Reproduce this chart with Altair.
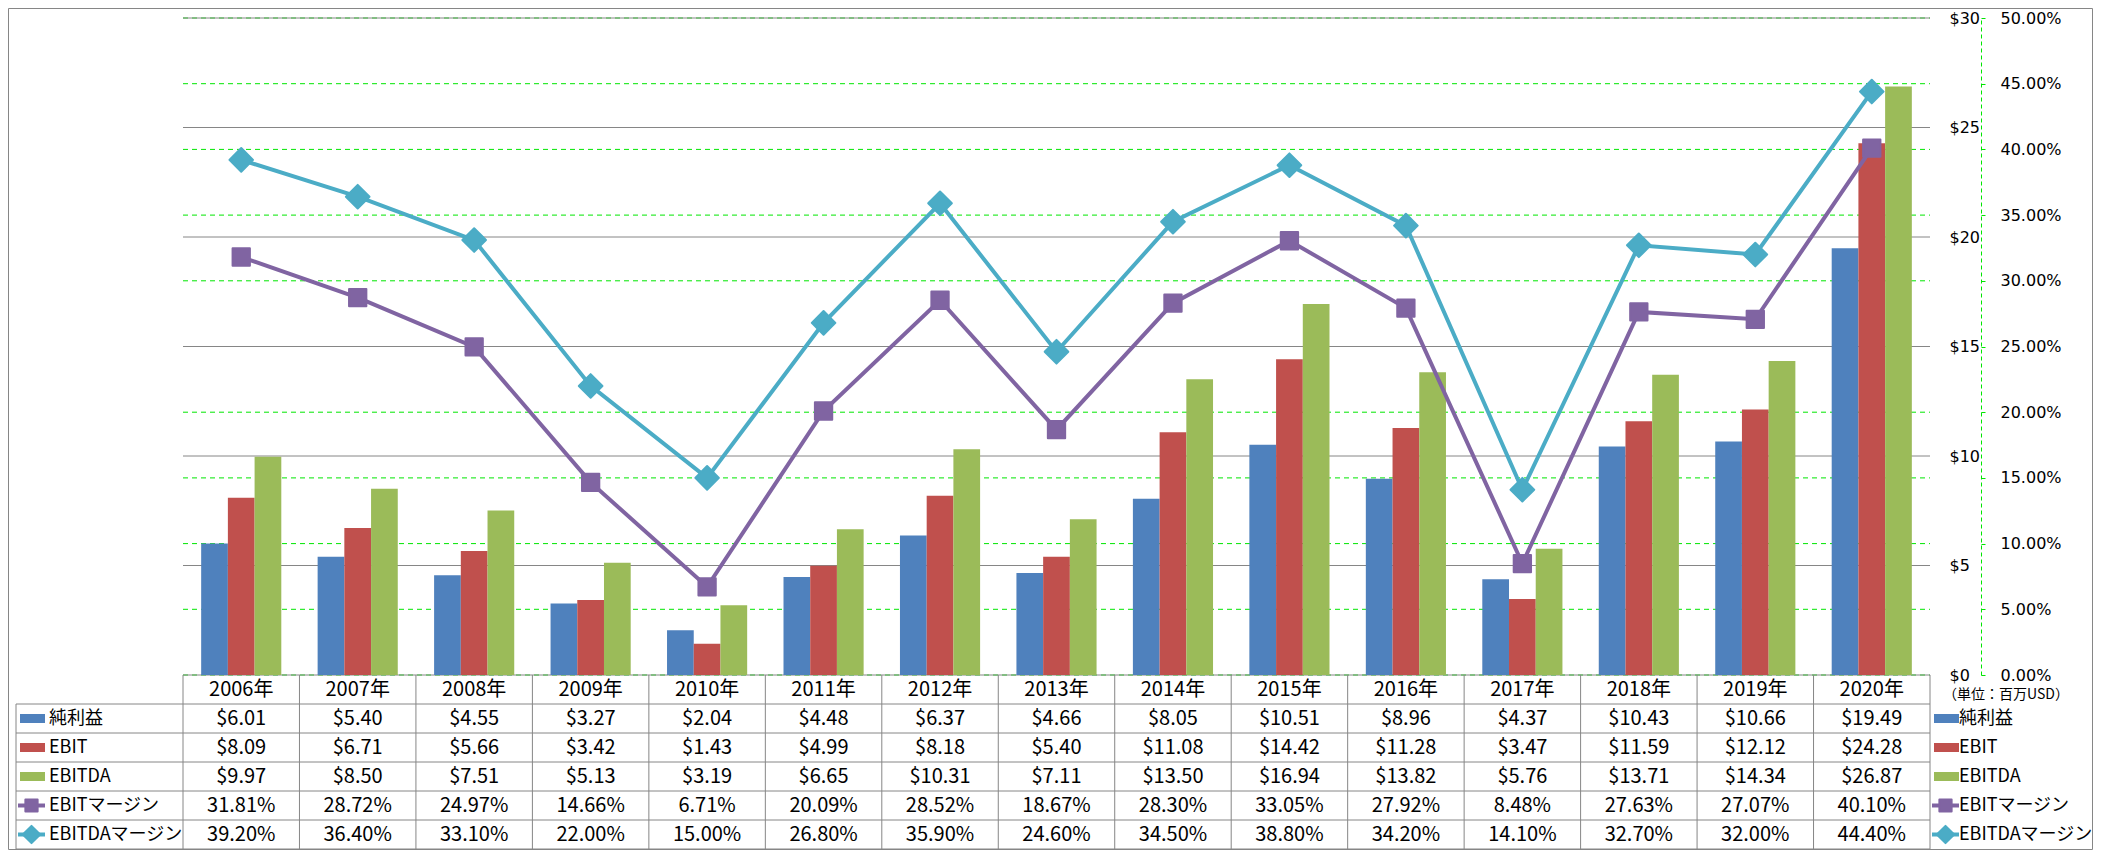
import altair as alt
import pandas as pd

years = ["2006年", "2007年", "2008年", "2009年", "2010年", "2011年", "2012年", "2013年",
         "2014年", "2015年", "2016年", "2017年", "2018年", "2019年", "2020年"]
net_income = [6.01, 5.40, 4.55, 3.27, 2.04, 4.48, 6.37, 4.66, 8.05, 10.51, 8.96, 4.37, 10.43, 10.66, 19.49]
ebit = [8.09, 6.71, 5.66, 3.42, 1.43, 4.99, 8.18, 5.40, 11.08, 14.42, 11.28, 3.47, 11.59, 12.12, 24.28]
ebitda = [9.97, 8.50, 7.51, 5.13, 3.19, 6.65, 10.31, 7.11, 13.50, 16.94, 13.82, 5.76, 13.71, 14.34, 26.87]
ebit_margin = [31.81, 28.72, 24.97, 14.66, 6.71, 20.09, 28.52, 18.67, 28.30, 33.05, 27.92, 8.48, 27.63, 27.07, 40.10]
ebitda_margin = [39.20, 36.40, 33.10, 22.00, 15.00, 26.80, 35.90, 24.60, 34.50, 38.80, 34.20, 14.10, 32.70, 32.00, 44.40]

series_names = ["純利益", "EBIT", "EBITDA", "EBITマージン", "EBITDAマージン"]
colors = ["#4F81BD", "#C0504D", "#9BBB59", "#8064A2", "#4BACC6"]
usd_ticks = [0, 5, 10, 15, 20, 25, 30]
pct_ticks = [0, 0.05, 0.10, 0.15, 0.20, 0.25, 0.30, 0.35, 0.40, 0.45, 0.50]
unit_label = "（単位：百万USD）"

W, H, TH = 1747, 657, 174
TOP = 10
FONT = "Noto Sans CJK JP"
AXFONT = "DejaVu Sans"
GRAY = "#868686"
GREEN = "#00e600"

bar_vals = [net_income, ebit, ebitda]
line_vals = [ebit_margin, ebitda_margin]

bar_df = pd.DataFrame([{"year": y, "series": s, "value": v}
                       for s, vals in zip(series_names[:3], bar_vals) for y, v in zip(years, vals)])
line_df = pd.DataFrame([{"year": y, "series": s, "value": v / 100}
                        for s, vals in zip(series_names[3:], line_vals) for y, v in zip(years, vals)])

tbl_rows = []
for i, y in enumerate(years):
    tbl_rows.append({"year": y, "row": 0.5, "label": y})
    for r, vals in enumerate(bar_vals):
        tbl_rows.append({"year": y, "row": r + 1.5, "label": f"${vals[i]:.2f}"})
    for r, vals in enumerate(line_vals):
        tbl_rows.append({"year": y, "row": r + 4.5, "label": f"{vals[i]:.2f}%"})
tbl_df = pd.DataFrame(tbl_rows)

leg_df = pd.DataFrame({"series": series_names, "row": [1.5, 2.5, 3.5, 4.5, 5.5]})
years_df = pd.DataFrame({"year": years})
bounds_df = pd.DataFrame({"b": [1, 2, 3, 4, 5, 6]})
one_df = pd.DataFrame({"a": [0]})
usd_grid_df = pd.DataFrame({"v": usd_ticks})
pct_grid_df = pd.DataFrame({"v": pct_ticks})

color_scale = alt.Scale(domain=series_names, range=colors)
x_scale = alt.Scale(domain=years, paddingInner=0, paddingOuter=0)
usd_scale = alt.Scale(domain=[0, 30], nice=False)
pct_scale = alt.Scale(domain=[0, 0.5], nice=False)
tbl_scale = alt.Scale(domain=[0, 6], range=[H, H + TH], nice=False, zero=False)

X = alt.X("year:N", scale=x_scale, axis=None, sort=years)
COLOR = alt.Color("series:N", scale=color_scale, legend=None)
TY = alt.Y("row:Q", scale=tbl_scale, axis=None)

# gridlines drawn as marks: green dashed first, gray solid on top, bars above both
pct_grid = alt.Chart(pct_grid_df).mark_rule(color=GREEN, strokeWidth=1, strokeDash=[5, 4]).encode(
    x=alt.value(0), x2=alt.value(W),
    y=alt.Y("v:Q", scale=pct_scale, axis=None))
usd_grid = alt.Chart(usd_grid_df).mark_rule(color=GRAY, strokeWidth=1).encode(
    x=alt.value(0), x2=alt.value(W),
    y=alt.Y("v:Q", scale=usd_scale, axis=None))

bars = alt.Chart(bar_df).mark_bar().encode(
    x=X,
    xOffset=alt.XOffset("series:N", sort=series_names[:3],
                        scale=alt.Scale(domain=series_names[:3], paddingInner=0, paddingOuter=0.68)),
    y=alt.Y("value:Q", scale=usd_scale,
            axis=alt.Axis(orient="right", values=usd_ticks, labelExpr="'$' + datum.value",
                          ticks=False, tickSize=0, domain=False, labelPadding=19, grid=False,
                          labelFont=AXFONT, labelFontSize=16, labelColor="black",
                          labelAlign="left", labelBaseline="middle", title=None)),
    color=COLOR,
)

lines = alt.Chart(line_df).mark_line(strokeWidth=4).encode(
    x=X,
    y=alt.Y("value:Q", scale=pct_scale,
            axis=alt.Axis(orient="right", offset=51, values=pct_ticks, format=".2%",
                          domain=True, domainColor=GREEN, domainDash=[4, 3], domainWidth=1,
                          ticks=True, tickColor=GREEN, tickSize=4, tickWidth=1,
                          labelPadding=15, grid=False,
                          labelFont=AXFONT, labelFontSize=16, labelColor="black",
                          labelAlign="left", labelBaseline="middle", title=None)),
    color=COLOR,
)

pts_sq = alt.Chart(line_df).transform_filter(
    alt.datum.series == series_names[3]
).mark_point(shape="square", filled=True, size=300, opacity=1, strokeWidth=2, strokeJoin="round").encode(
    x=X, y=alt.Y("value:Q", scale=pct_scale, axis=None), color=COLOR, stroke=COLOR)

pts_dm = alt.Chart(line_df).transform_filter(
    alt.datum.series == series_names[4]
).mark_point(shape="diamond", filled=True, size=560, opacity=1, strokeWidth=2, strokeJoin="round").encode(
    x=X, y=alt.Y("value:Q", scale=pct_scale, axis=None), color=COLOR, stroke=COLOR)

tbl_text = alt.Chart(tbl_df).mark_text(font=FONT, fontSize=20, baseline="middle",
                                       align="center", color="black").encode(
    x=X, y=TY, text="label:N")

rule_style = dict(color=GRAY, strokeWidth=1)
v_rules = alt.Chart(years_df).mark_rule(**rule_style).encode(
    x=alt.X("year:N", scale=x_scale, axis=None, sort=years, bandPosition=0),
    y=alt.Y(datum=0, type="quantitative", scale=tbl_scale, axis=None),
    y2=alt.Y2(datum=6))
v_end = alt.Chart(one_df).mark_rule(**rule_style).encode(
    x=alt.value(W),
    y=alt.Y(datum=0, type="quantitative", scale=tbl_scale, axis=None),
    y2=alt.Y2(datum=6))
v_left = alt.Chart(one_df).mark_rule(**rule_style).encode(
    x=alt.value(-167),
    y=alt.Y(datum=1, type="quantitative", scale=tbl_scale, axis=None),
    y2=alt.Y2(datum=6))
h_rules = alt.Chart(bounds_df).mark_rule(**rule_style).encode(
    x=alt.value(-167), x2=alt.value(W),
    y=alt.Y("b:Q", scale=tbl_scale, axis=None))


def legend_column(x0, tx):
    bar_sw = alt.Chart(leg_df).transform_filter(
        alt.FieldOneOfPredicate(field="series", oneOf=series_names[:3])
    ).mark_rule(strokeWidth=9, strokeCap="butt").encode(
        x=alt.value(x0 + 2), x2=alt.value(x0 + 27), y=TY, color=COLOR)
    line_sw = alt.Chart(leg_df).transform_filter(
        alt.FieldOneOfPredicate(field="series", oneOf=series_names[3:])
    ).mark_rule(strokeWidth=4, strokeCap="butt").encode(
        x=alt.value(x0), x2=alt.value(x0 + 27), y=TY, color=COLOR)
    sq = alt.Chart(leg_df).transform_filter(alt.datum.series == series_names[3]).mark_point(
        shape="square", filled=True, size=150, opacity=1, strokeWidth=2, strokeJoin="round").encode(
        x=alt.value(x0 + 13.5), y=TY, color=COLOR, stroke=COLOR)
    dm = alt.Chart(leg_df).transform_filter(alt.datum.series == series_names[4]).mark_point(
        shape="diamond", filled=True, size=300, opacity=1, strokeWidth=2, strokeJoin="round").encode(
        x=alt.value(x0 + 13.5), y=TY, color=COLOR, stroke=COLOR)
    txt = alt.Chart(leg_df).mark_text(font=FONT, fontSize=18, baseline="middle", align="left",
                                      color="black").encode(
        x=alt.value(x0 + tx), y=TY, text="series:N")
    return [bar_sw, line_sw, sq, dm, txt]


unit = alt.Chart(pd.DataFrame({"t": [unit_label], "row": [0.68]})).mark_text(
    font=FONT, fontSize=14, baseline="middle", align="center", color="black").encode(
    x=alt.value(W + 76), y=TY, text="t:N")

border = alt.Chart(one_df).mark_rect(fillOpacity=0, stroke=GRAY, strokeWidth=1).encode(
    x=alt.value(-174.5), x2=alt.value(W + 162.5), y=alt.value(-TOP + 0.5), y2=alt.value(H + TH + 0.5))

layers = [pct_grid, usd_grid, bars, lines, pts_sq, pts_dm, tbl_text,
          v_rules, v_end, v_left, h_rules, unit, border]
layers += legend_column(-165, 31)
layers += legend_column(W + 2, 27)

chart = alt.layer(*layers).resolve_scale(y="independent").properties(
    width=W, height=H,
    autosize=alt.AutoSizeParams(type="none"),
    padding={"left": 175, "top": TOP, "right": 163, "bottom": 175},
    background="white",
).configure_view(stroke=None)

chart.save("out.html", embed_options={"renderer": "svg", "actions": False})
